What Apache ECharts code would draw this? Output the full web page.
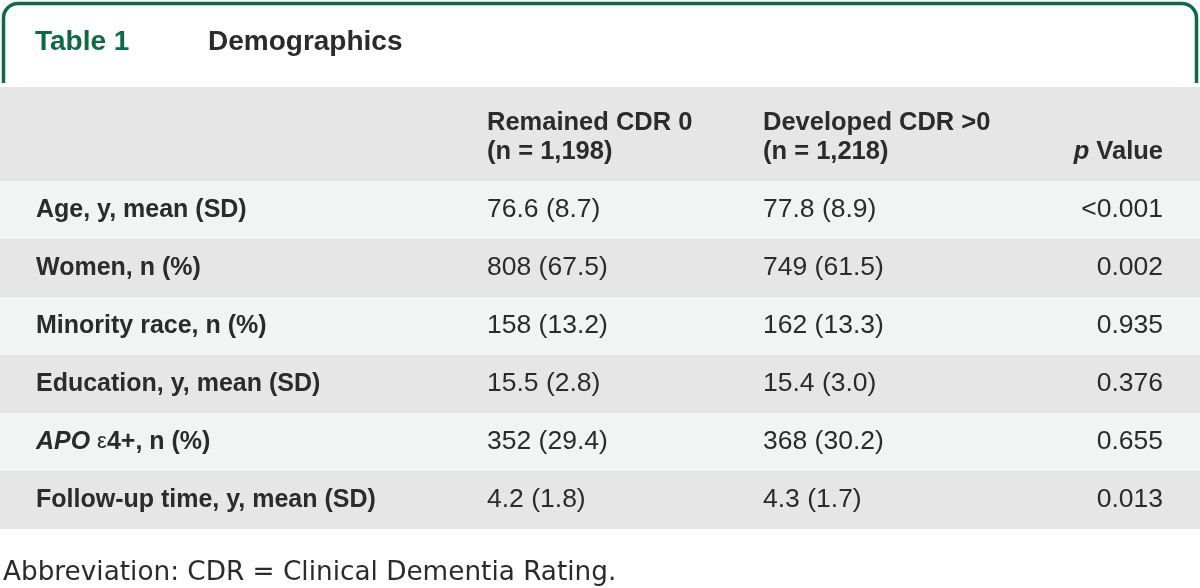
<!DOCTYPE html>
<html>
<head>
<meta charset="utf-8">
<script src="https://cdn.jsdelivr.net/npm/echarts@6/dist/echarts.min.js"></script>
<style>
  html, body { margin: 0; padding: 0; background: #ffffff; }
  #chart { width: 1200px; height: 588px; }
</style>
</head>
<body>
<div id="chart"></div>
<script>
// ---- Data ----
const tableNumber = 'Table 1';
const tableTitle = 'Demographics';
const columnHeads = [
  ['Remained CDR 0', '(n = 1,198)'],
  ['Developed CDR >0', '(n = 1,218)']
];
const pHead = '{i|p} Value';
const rowLabels = [
  'Age, y, mean (SD)',
  'Women, n (%)',
  'Minority race, n (%)',
  'Education, y, mean (SD)',
  '{i|APO} {e|ε}4+, n (%)',
  'Follow-up time, y, mean (SD)'
];
const remainedValues = ['76.6 (8.7)', '808 (67.5)', '158 (13.2)', '15.5 (2.8)', '352 (29.4)', '4.2 (1.8)'];
const developedValues = ['77.8 (8.9)', '749 (61.5)', '162 (13.3)', '15.4 (3.0)', '368 (30.2)', '4.3 (1.7)'];
const pValues = ['<0.001', '0.002', '0.935', '0.376', '0.655', '0.013'];
const footnote = 'Abbreviation: CDR = Clinical Dementia Rating.';

// ---- Layout / style ----
const GREEN = '#0b6b45';
const TEXT = '#2b2b2b';
const FONT = '"Liberation Sans", Arial, sans-serif';
const COL_X = { remained: 487, developed: 763, p: 1163 };

const chart = echarts.init(document.getElementById('chart'), null, { renderer: 'canvas' });

function columnSeries(values, xPos, align) {
  return {
    type: 'scatter',
    symbolSize: 0,
    silent: true,
    itemStyle: { opacity: 1 },
    data: values.map((v, i) => ({ value: [xPos, i], text: v })),
    label: {
      show: true,
      position: 'inside',
      align: align,
      verticalAlign: 'middle',
      formatter: p => p.data.text,
      fontFamily: FONT,
      fontSize: 26.5,
      color: TEXT,
      opacity: 1
    }
  };
}

const boldFont = 'bold 25.5px ' + FONT;
const borderStyle = { stroke: GREEN, lineWidth: 3.5, fill: 'none' };
const R = 14.5;

const option = {
  animation: false,
  backgroundColor: '#ffffff',
  grid: { left: 0, right: 0, top: 181, bottom: 59 },
  xAxis: {
    type: 'value', min: 0, max: 1200,
    show: false
  },
  yAxis: {
    type: 'category',
    data: rowLabels,
    inverse: true,
    axisLine: { show: false },
    axisTick: { show: false },
    splitLine: { show: false },
    splitArea: { show: true, areaStyle: { color: ['#f2f3f3', '#e6e6e6'] } },
    axisLabel: {
      inside: true,
      margin: 36,
      align: 'left',
      verticalAlign: 'middle',
      fontFamily: FONT,
      fontWeight: 'bold',
      fontSize: 25,
      color: TEXT,
      rich: {
        i: { fontFamily: FONT, fontWeight: 'bold', fontStyle: 'italic', fontSize: 25, color: TEXT },
        e: { fontFamily: FONT, fontWeight: 'normal', fontSize: 22, color: TEXT }
      }
    }
  },
  series: [
    columnSeries(remainedValues, COL_X.remained, 'left'),
    columnSeries(developedValues, COL_X.developed, 'left'),
    columnSeries(pValues, COL_X.p, 'right')
  ],
  graphic: [
    { type: 'line', silent: true, shape: { x1: 3.5, y1: 83, x2: 3.5, y2: 3.5 + R }, style: borderStyle },
    { type: 'line', silent: true, shape: { x1: 3.5 + R, y1: 3.5, x2: 1196.5 - R, y2: 3.5 }, style: borderStyle },
    { type: 'line', silent: true, shape: { x1: 1196.5, y1: 3.5 + R, x2: 1196.5, y2: 83 }, style: borderStyle },
    { type: 'arc', silent: true, shape: { cx: 3.5 + R, cy: 3.5 + R, r: R, startAngle: Math.PI, endAngle: Math.PI * 1.5, clockwise: true }, style: borderStyle },
    { type: 'arc', silent: true, shape: { cx: 1196.5 - R, cy: 3.5 + R, r: R, startAngle: Math.PI * 1.5, endAngle: Math.PI * 2, clockwise: true }, style: borderStyle },
    {
      type: 'text', x: 35, y: 42, silent: true,
      style: { text: tableNumber, font: 'bold 28px ' + FONT, fill: GREEN, textAlign: 'left', textVerticalAlign: 'middle' }
    },
    {
      type: 'text', x: 208, y: 42, silent: true,
      style: { text: tableTitle, font: 'bold 28px ' + FONT, fill: TEXT, textAlign: 'left', textVerticalAlign: 'middle' }
    },
    {
      type: 'rect', silent: true, z: -10,
      shape: { x: 0, y: 87, width: 1200, height: 94 },
      style: { fill: '#e6e6e6' }
    },
    {
      type: 'text', x: COL_X.remained, y: 123, silent: true,
      style: { text: columnHeads[0][0], font: boldFont, fill: TEXT, textAlign: 'left', textVerticalAlign: 'middle' }
    },
    {
      type: 'text', x: COL_X.remained, y: 152, silent: true,
      style: { text: columnHeads[0][1], font: boldFont, fill: TEXT, textAlign: 'left', textVerticalAlign: 'middle' }
    },
    {
      type: 'text', x: COL_X.developed, y: 123, silent: true,
      style: { text: columnHeads[1][0], font: boldFont, fill: TEXT, textAlign: 'left', textVerticalAlign: 'middle' }
    },
    {
      type: 'text', x: COL_X.developed, y: 152, silent: true,
      style: { text: columnHeads[1][1], font: boldFont, fill: TEXT, textAlign: 'left', textVerticalAlign: 'middle' }
    },
    {
      type: 'text', x: COL_X.p, y: 152, silent: true,
      style: {
        text: pHead, font: boldFont, fill: TEXT, textAlign: 'right', textVerticalAlign: 'middle',
        rich: { i: { fontStyle: 'italic', fontWeight: 'bold', fontSize: 25.5, fontFamily: FONT, fill: TEXT } }
      }
    },
    {
      type: 'text', x: 3, y: 573, silent: true,
      style: { text: footnote, font: '26.3px "DejaVu Sans", sans-serif', fill: TEXT, textAlign: 'left', textVerticalAlign: 'middle' }
    }
  ]
};

chart.setOption(option);
</script>
</body>
</html>
